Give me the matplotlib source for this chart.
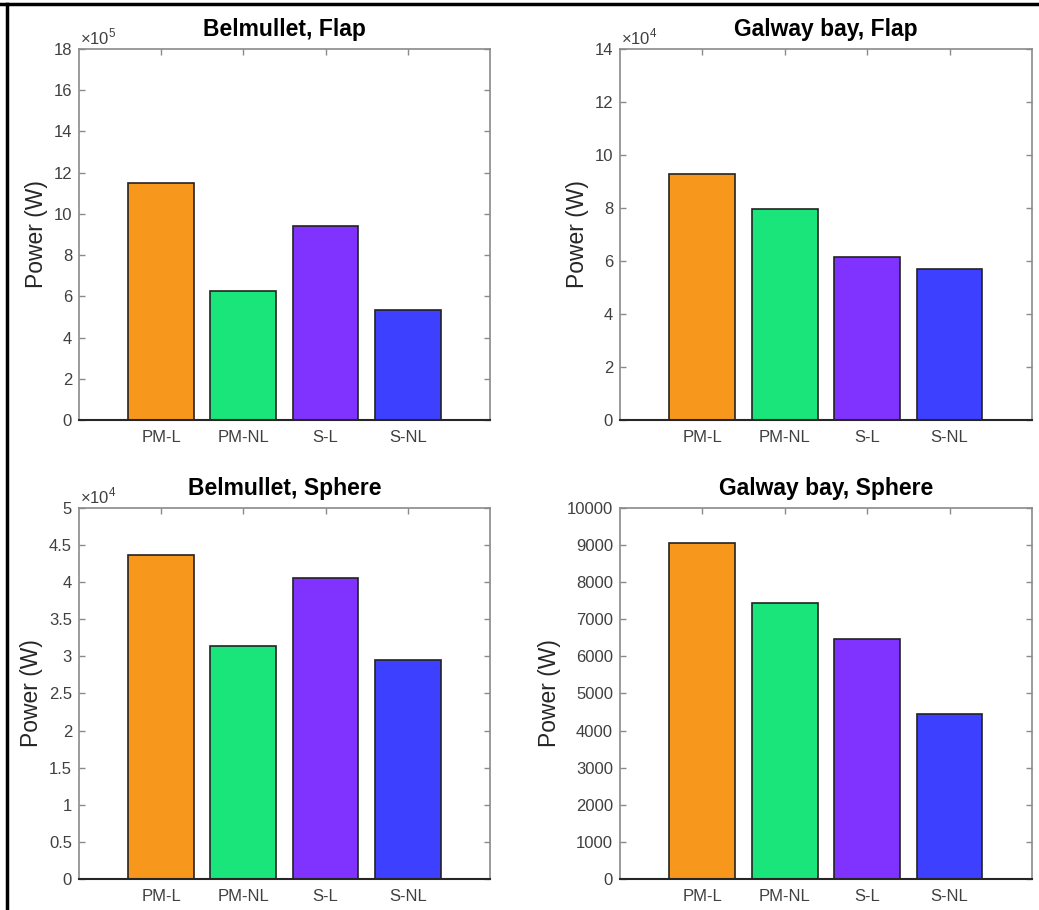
import numpy as np
import matplotlib
matplotlib.use("Agg")
from matplotlib import pyplot as plt
from matplotlib.ticker import FuncFormatter
from matplotlib.lines import Line2D

plt.rcParams['font.family'] = ['Liberation Sans', 'DejaVu Sans']
plt.rcParams['mathtext.fontset'] = 'custom'
plt.rcParams['mathtext.rm'] = 'Liberation Sans'

categories = ["PM-L", "PM-NL", "S-L", "S-NL"]
colors = ["#f7981d", "#1ae57a", "#8033ff", "#3d40ff"]

# power values (W)
belmullet_flap = [11.48e5, 6.27e5, 9.43e5, 5.35e5]
galway_flap = [9.27e4, 7.97e4, 6.14e4, 5.71e4]
belmullet_sphere = [4.37e4, 3.14e4, 4.06e4, 2.95e4]
galway_sphere = [9048, 7431, 6477, 4447]

titles = ["Belmullet, Flap", "Galway bay, Flap", "Belmullet, Sphere", "Galway bay, Sphere"]
series = [belmullet_flap, galway_flap, belmullet_sphere, galway_sphere]
ylims = [18e5, 14e4, 5e4, 10000]
ysteps = [2e5, 2e4, 0.5e4, 1000]
exps = [5, 4, 4, 0]

# axes boxes in figure fraction [left, bottom, width, height]
boxes = [[0.076, 0.5385, 0.3956, 0.4077],
         [0.5967, 0.5385, 0.3965, 0.4077],
         [0.076, 0.0341, 0.3956, 0.4077],
         [0.5967, 0.0341, 0.3965, 0.4077]]

fig = plt.figure(figsize=(10.39, 9.10), dpi=100)
gray = "#8a8a8a"
tickc = "#404040"

for box, title, vals, ymax, step, e in zip(boxes, titles, series, ylims, ysteps, exps):
    ax = fig.add_axes(box)
    x = np.arange(1, len(categories) + 1)
    ax.bar(x, vals, width=0.8, color=colors, edgecolor="#222222", linewidth=1.2, zorder=2)
    ax.set_xlim(0, 5)
    ax.set_ylim(0, ymax)
    ax.set_xticks(x)
    ax.set_xticklabels(categories)
    ax.set_yticks(np.arange(0, ymax + step / 2, step))
    scale = 10 ** e
    ax.yaxis.set_major_formatter(FuncFormatter(lambda v, p, s=scale: ("%g" % round(v / s, 6))))
    if e > 0:
        ax.text(0.003, 1.003, r"$\times10^{%d}$" % e, transform=ax.transAxes,
                fontsize=12, color=tickc, ha="left", va="bottom")
    ax.tick_params(direction="in", top=True, right=True, length=4, width=1,
                   color=gray, labelcolor=tickc, labelsize=12)
    ax.tick_params(axis="x", bottom=False, pad=7)
    ax.tick_params(axis="y", pad=5)
    for s in ["top", "right", "left"]:
        ax.spines[s].set_color(gray)
        ax.spines[s].set_linewidth(1.2)
    ax.spines["bottom"].set_color("#262626")
    ax.spines["bottom"].set_linewidth(1.5)
    ax.set_ylabel("Power (W)", fontsize=16.5, color="#262626")
    ax.set_title(title, fontsize=16.5, fontweight="bold", pad=9)

# black frame lines at top and left
fig.add_artist(Line2D([0, 1], [0.9955, 0.9955], color="black", linewidth=2.5, transform=fig.transFigure))
fig.add_artist(Line2D([0.0065, 0.0065], [0, 0.9955], color="black", linewidth=2.5, transform=fig.transFigure))

fig.savefig("out.png", dpi=100)
